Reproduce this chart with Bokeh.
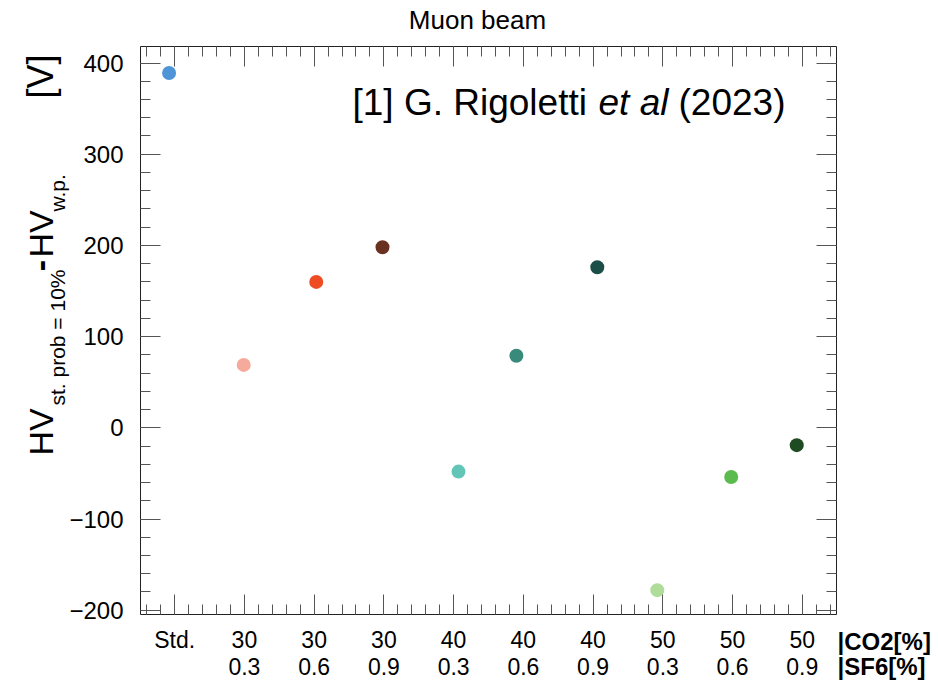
import math
from bokeh.plotting import figure
from bokeh.models import Range1d, FixedTicker, LinearAxis, Label
from bokeh.embed import file_html
from bokeh.resources import INLINE

# ---------------- data ----------------
co2_labels = ["Std.", "30", "30", "30", "40", "40", "40", "50", "50", "50"]
sf6_labels = ["", "0.3", "0.6", "0.9", "0.3", "0.6", "0.9", "0.3", "0.6", "0.9"]
x_pos = [-0.08, 0.99, 2.03, 2.98, 4.07, 4.90, 6.06, 6.92, 7.98, 8.92]
hv_diff = [389, 69, 160, 198, -48, 79, 176, -178, -54, -19]
point_colors = ["#4f94d6", "#f6aa9b", "#f04c24", "#6b3120", "#63c5b7",
                "#388a7b", "#1a4e47", "#b0dc9a", "#5cbb4f", "#1f4b22"]
y_ticks = [-200, -100, 0, 100, 200, 300, 400]
title_text = "Muon beam"
ref_parts = ["[1] G. Rigoletti", "et al", "(2023)"]
row_names = ["|CO2[%]", "|SF6[%]"]

FONT = "Liberation Sans"
W, H = 938, 683
# ROOT frame box in page pixels and in data units
FL, FR, FT, FB = 140, 836, 46, 614
X0, X1 = -0.49, 9.49
Y0, Y1 = -204.7, 418.1
sx_per = (FR - FL) / (X1 - X0)
sy_per = (FB - FT) / (Y1 - Y0)

# plot frame covers the full canvas; the ROOT box is drawn with fixed-location axes
p = figure(width=W, height=H,
           x_range=Range1d(X0 - FL / sx_per, X1 + (W - FR) / sx_per),
           y_range=Range1d(Y0 - (H - FB) / sy_per, Y1 + FT / sy_per),
           output_backend="svg", toolbar_location=None, title=None,
           x_axis_type=None, y_axis_type=None, min_border=0,
           min_border_left=0, min_border_right=0, min_border_top=0, min_border_bottom=0)
p.grid.visible = False
p.outline_line_color = None
p.background_fill_color = "white"
p.border_fill_color = "white"

xt = FixedTicker(ticks=list(range(len(co2_labels))),
                 minor_ticks=[round(-0.4 + 0.2 * i, 2) for i in range(50)])
yt = FixedTicker(ticks=y_ticks, minor_ticks=list(range(-200, 420, 20)))


def style(ax):
    ax.axis_line_color = "#222222"
    ax.axis_line_width = 1
    ax.major_tick_line_color = "#555555"
    ax.minor_tick_line_color = "#555555"
    ax.major_tick_in = 20
    ax.major_tick_out = 0
    ax.minor_tick_in = 10
    ax.minor_tick_out = 0
    ax.major_label_text_font = FONT
    ax.major_label_text_font_size = "24px"
    ax.major_label_text_color = "black"


def silent(ax):
    ax.major_label_text_color = None
    ax.major_label_text_font_size = "0px"
    ax.major_label_standoff = 0


xb = LinearAxis(ticker=xt, fixed_location=Y0, bounds=(X0, X1))
style(xb)
xb.major_label_overrides = {i: (c if s == "" else c + "\n" + s) for i, (c, s) in enumerate(zip(co2_labels, sf6_labels))}
xb.major_label_standoff = 12
xb.major_label_text_font_size = "23px"
xb.major_label_text_line_height = 1.05
p.add_layout(xb, "below")

xa = LinearAxis(ticker=xt, fixed_location=Y1, bounds=(X0, X1))
style(xa)
silent(xa)
p.add_layout(xa, "above")

yl = LinearAxis(ticker=yt, fixed_location=X0, bounds=(Y0, Y1))
style(yl)
yl.major_label_overrides = {v: (str(v).replace("-", "\u2212")) for v in y_ticks}
yl.major_label_standoff = 17
p.add_layout(yl, "left")

yr = LinearAxis(ticker=yt, fixed_location=X1, bounds=(Y0, Y1))
style(yr)
silent(yr)
p.add_layout(yr, "right")

p.scatter(x=x_pos, y=hv_diff, marker="circle", size=14, fill_color=point_colors, line_color=None)


def lab(text, sx, sy, size, **kw):
    # sx, sy in page pixels (frame == canvas)
    l = Label(x=sx, y=H - sy, x_units="screen", y_units="screen", text=text,
              text_font=FONT, text_font_size=f"{size}px", text_color="black", **kw)
    p.add_layout(l)
    return l


# title
lab(title_text, 477, 19, 26, text_align="center", text_baseline="middle")

# reference annotation
lab(ref_parts[0], 352, 102, 37, text_align="left", text_baseline="middle")
lab(ref_parts[1], 598, 102, 37, text_align="left", text_baseline="middle", text_font_style="italic")
lab(ref_parts[2], 678, 102, 37, text_align="left", text_baseline="middle")

# right side row labels
lab(row_names[0], 837, 641, 24, text_align="left", text_baseline="middle", text_font_style="bold")
lab(row_names[1], 837, 666, 24, text_align="left", text_baseline="middle", text_font_style="bold")

# y-axis title built from pieces (rotated, reading upward)
ang = math.pi / 2
lab("HV", 40, 455, 34, angle=ang, text_align="left", text_baseline="middle")
lab("st. prob = 10%", 57, 405, 21, angle=ang, text_align="left", text_baseline="middle")
lab("-", 40, 265, 34, angle=ang, text_align="center", text_baseline="middle", text_font_style="bold")
lab("HV", 40, 257, 34, angle=ang, text_align="left", text_baseline="middle")
lab("w.p.", 57, 211, 21, angle=ang, text_align="left", text_baseline="middle")
lab("[V]", 40, 98, 36, angle=ang, text_align="left", text_baseline="middle")

open("out.html", "w").write(file_html(p, INLINE))
